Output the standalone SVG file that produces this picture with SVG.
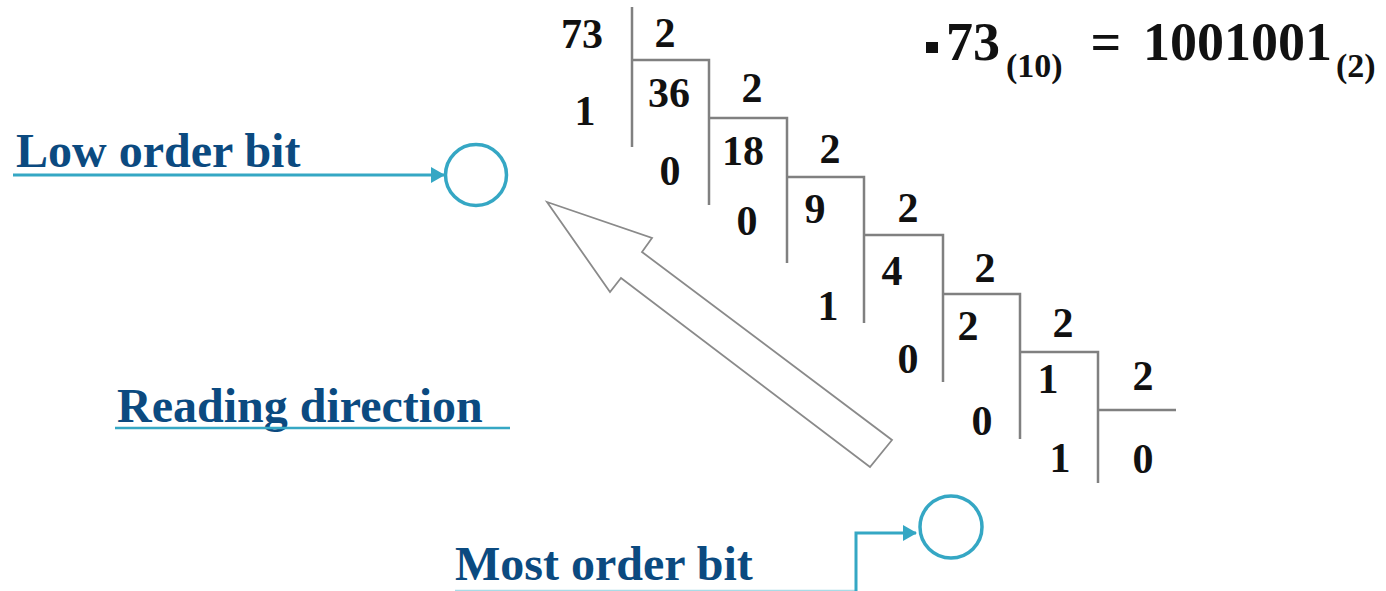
<svg xmlns="http://www.w3.org/2000/svg" width="1386" height="591" viewBox="0 0 1386 591">
<style>
.num{font-family:"Liberation Serif","Times New Roman",serif;font-weight:bold;font-size:42px;fill:#111;text-anchor:middle}
.lbl{font-family:"Liberation Serif","Times New Roman",serif;font-weight:bold;font-size:48px;fill:#0b4a80}
.frm{font-family:"Liberation Serif","Times New Roman",serif;font-weight:bold;fill:#111}
.div{stroke:#808080;stroke-width:2.5;fill:none}
.conn{stroke:#35a7c4;stroke-width:3;fill:none}
.ring{stroke:#35a7c4;stroke-width:3.5;fill:none}
</style>
<defs>
<marker id="ah" markerWidth="14" markerHeight="16" refX="13" refY="8" orient="auto" markerUnits="userSpaceOnUse">
<path d="M0,0 L14,8 L0,16 Z" fill="#35a7c4"/>
</marker>
</defs>
<g id="division">
<path class="div" d="M632,7 V147 M632,60 H709 V205 M709,118 H787 V263 M787,177 H864 V323 M864,235 H943 V382 M943,294 H1020 V439 M1020,352 H1098 V483 M1098,410 H1176"/>
<text class="num" x="582" y="48">73</text>
<text class="num" x="665" y="47">2</text>
<text class="num" x="585" y="125">1</text>
<text class="num" x="669" y="107">36</text>
<text class="num" x="752" y="102">2</text>
<text class="num" x="670" y="185">0</text>
<text class="num" x="743" y="165">18</text>
<text class="num" x="830" y="163">2</text>
<text class="num" x="747" y="235">0</text>
<text class="num" x="815" y="223">9</text>
<text class="num" x="908" y="222">2</text>
<text class="num" x="828" y="320">1</text>
<text class="num" x="892" y="285">4</text>
<text class="num" x="985" y="282">2</text>
<text class="num" x="908" y="373">0</text>
<text class="num" x="968" y="340">2</text>
<text class="num" x="1063" y="337">2</text>
<text class="num" x="982" y="435">0</text>
<text class="num" x="1048" y="393">1</text>
<text class="num" x="1143" y="390">2</text>
<text class="num" x="1060" y="472">1</text>
<text class="num" x="1143" y="473">0</text>
</g>
<g id="formula">
<rect x="926" y="42" width="12" height="11" fill="#111"/>
<text class="frm" x="946" y="60" font-size="54">73</text>
<text class="frm" x="1006" y="77" font-size="34">(10)</text>
<text class="frm" x="1106" y="60" font-size="54" font-weight="normal" text-anchor="middle">=</text>
<text class="frm" x="1143" y="60" font-size="54">1001001</text>
<text class="frm" x="1336" y="77" font-size="34">(2)</text>
</g>
<g id="reading-arrow">
<polygon points="547,202 652,238 642,252 892,440 870,467 621,278 610,292" fill="#fff" stroke="#8a8a8a" stroke-width="1.8" stroke-linejoin="miter"/>
</g>
<g id="low-order-bit">
<text class="lbl" x="16" y="167">Low order bit</text>
<circle class="ring" cx="476" cy="175" r="30.5"/>
</g>
<g id="most-order-bit">
<text class="lbl" x="455" y="580">Most order bit</text>
<circle class="ring" cx="951" cy="527" r="31"/>
</g>
<g id="reading-direction">
<text class="lbl" x="117" y="422">Reading direction</text>
</g>
<g id="connectors">
<line class="conn" x1="13" y1="175" x2="444" y2="175" marker-end="url(#ah)"/>
<line x1="455" y1="590.5" x2="856" y2="590.5" stroke="#a8dbe6" stroke-width="1.5"/>
<polyline class="conn" points="856,591 856,533 916,533" marker-end="url(#ah)"/>
<line x1="115" y1="428" x2="510" y2="428" stroke="#35a7c4" stroke-width="2.5"/>
</g>
</svg>
